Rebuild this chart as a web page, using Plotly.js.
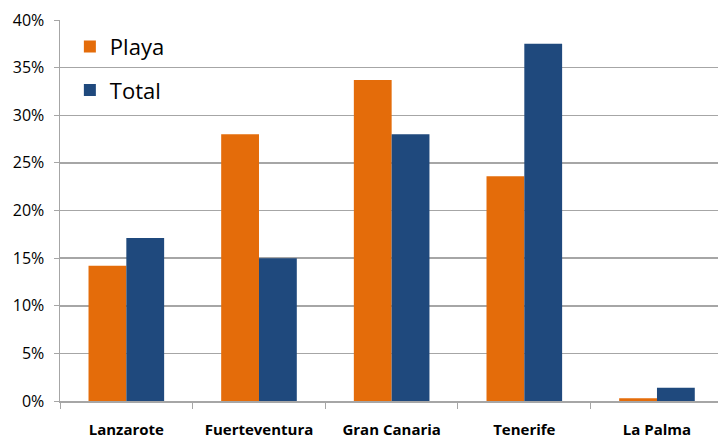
<!DOCTYPE html>
<html>
<head>
<meta charset="utf-8">
<script src="https://cdn.plot.ly/plotly-3.0.1.min.js"></script>
<style>html,body{margin:0;padding:0;overflow:hidden;background:#fff;}</style>
</head>
<body>
<div id="chart" style="width:720px;height:439px;"></div>
<script>
const categories = ["Lanzarote", "Fuerteventura", "Gran Canaria", "Tenerife", "La Palma"];
const playa = [0.142, 0.280, 0.337, 0.236, 0.003];
const total = [0.171, 0.150, 0.280, 0.375, 0.014];
const yTickVals = [0, 0.05, 0.10, 0.15, 0.20, 0.25, 0.30, 0.35, 0.40];
const yTickText = ["0%", "5%", "10%", "15%", "20%", "25%", "30%", "35%", "40%"];

const data = [
  {type: "bar", name: "Playa", legendgroup: "a", x: categories, y: playa, marker: {color: "#E46C0A"}},
  {type: "bar", name: "Total", legendgroup: "b", x: categories, y: total, marker: {color: "#1F497D"}}
];
const layout = {
  width: 720, height: 439,
  margin: {l: 60, r: 2, t: 20, b: 38},
  paper_bgcolor: "#fff", plot_bgcolor: "#fff",
  barmode: "group", bargap: 0.43, bargroupgap: 0,
  font: {family: "Open Sans, sans-serif", color: "#000"},
  showlegend: true,
  legend: {x: 0.015, y: 0.985, xanchor: "left", yanchor: "top", traceorder: "grouped", tracegroupgap: 12,
           font: {size: 22, family: "Open Sans, sans-serif"}, bgcolor: "rgba(0,0,0,0)", itemwidth: 30},
  xaxis: {
    type: "category", range: [-0.5, 4.46],
    showline: true, linecolor: "#A6A6A6", linewidth: 1.5,
    ticks: "outside", tickson: "boundaries", ticklen: 6, tickcolor: "#A6A6A6",
    ticklabelstandoff: 14,
    tickfont: {size: 15, family: "Open Sans, sans-serif", weight: "bold"},
    showgrid: false, zeroline: false
  },
  yaxis: {
    range: [0, 0.4], tickvals: yTickVals, ticktext: yTickText,
    showline: true, linecolor: "#A6A6A6", linewidth: 1.5,
    ticks: "outside", ticklen: 5, tickcolor: "#A6A6A6",
    ticklabelstandoff: 6,
    showgrid: true, gridcolor: "#A6A6A6", gridwidth: 1.5,
    zeroline: false,
    tickfont: {size: 16, family: "Open Sans, sans-serif"}
  }
};
Plotly.newPlot("chart", data, layout, {displayModeBar: false, staticPlot: true});
</script>
</body>
</html>
